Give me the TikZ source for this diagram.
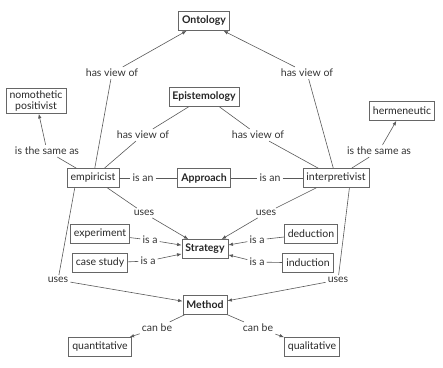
\documentclass[tikz,border=0pt]{standalone}
\usepackage{fontspec}
\setmainfont{Lato}
\usetikzlibrary{arrows.meta}

\tikzset{
  concept/.style={draw=black!60, line width=0.7pt, minimum height=19pt, inner xsep=3.5pt, inner ysep=2pt, text=black!85, font=\fontsize{10.5}{11.5}\selectfont},
  keyconcept/.style={concept, font=\fontsize{10.5}{11.5}\selectfont\bfseries},
  link/.style={inner sep=2pt, text=black!80, font=\fontsize{10.5}{11.5}\selectfont},
  line/.style={draw=black!65, line width=0.6pt},
  arr/.style={line, -{Latex[length=4.5pt,width=3.5pt]}}
}

\begin{document}
\begin{tikzpicture}[x=1pt,y=-1pt]
 \useasboundingbox (0,0) rectangle (443,367);

 \node[keyconcept] (onto) at (204,21) {Ontology};
 \node[keyconcept] (epis) at (204,97) {Epistemology};
 \node[keyconcept] (appr) at (204,178) {Approach};
 \node[keyconcept] (strat) at (205,249) {Strategy};
 \node[keyconcept] (meth) at (205,305) {Method};

 \node[concept, align=center, minimum width=58pt] (nomo) at (36,101) {nomothetic\\positivist};
 \node[concept] (herm) at (402,111) {hermeneutic};
 \node[concept] (emp) at (93,178) {empiricist};
 \node[concept] (interp) at (336,178) {interpretivist};
 \node[concept] (exper) at (100,234) {experiment};
 \node[concept] (case) at (100,263) {case study};
 \node[concept] (deduc) at (311,234) {deduction};
 \node[concept] (induc) at (308,263) {induction};
 \node[concept] (quant) at (100,347) {quantitative};
 \node[concept] (qual) at (312,347) {qualitative};

 \node[link] (l1) at (112,73) {has view of};
 \node[link] (l2) at (307,73) {has view of};
 \node[link] (l3) at (143,135) {has view of};
 \node[link] (l4) at (258,135) {has view of};
 \node[link] (l5) at (47,151) {is the same as};
 \node[link] (l6) at (379,151) {is the same as};
 \node[link] (l7) at (143,178) {is an};
 \node[link] (l8) at (270,178) {is an};
 \node[link] (l9) at (144,213) {uses};
 \node[link] (l10) at (266,213) {uses};
 \node[link] (l11) at (150,240) {is a};
 \node[link] (l12) at (148,261) {is a};
 \node[link] (l13) at (257,240) {is a};
 \node[link] (l14) at (257,262) {is a};
 \node[link] (l15) at (58,280) {uses};
 \node[link] (l16) at (338,280) {uses};
 \node[link] (l17) at (157,328) {can be};
 \node[link] (l18) at (258,328) {can be};

 \draw[line] (emp) -- (l1);
 \draw[arr] (l1) -- (onto);
 \draw[line] (interp) -- (l2);
 \draw[arr] (l2) -- (onto);
 \draw[line] ([xshift=20pt]epis.south west) -- (l3);
 \draw[line] (l3) -- (emp);
 \draw[line] ([xshift=-20pt]epis.south east) -- (l4);
 \draw[line] (l4) -- (interp);
 \draw[line] (emp) -- (l5);
 \draw[arr] (l5) -- (nomo);
 \draw[line] (interp) -- (l6);
 \draw[arr] (l6) -- (herm);
 \draw[line] (emp) -- (l7);
 \draw[line] (l7) -- (appr);
 \draw[line] (appr) -- (l8);
 \draw[line] (l8) -- (interp);
 \draw[line] (emp) -- (l9);
 \draw[arr] (l9) -- (strat);
 \draw[line] (interp) -- (l10);
 \draw[arr] (l10) -- (strat);
 \draw[line] (exper) -- (l11);
 \draw[arr] (l11) -- (strat);
 \draw[line] (case) -- (l12);
 \draw[arr] (l12) -- (strat);
 \draw[line] (deduc) -- (l13);
 \draw[arr] (l13) -- (strat);
 \draw[line] (induc) -- (l14);
 \draw[arr] (l14) -- (strat);
 \draw[line] ([xshift=8pt]emp.south west) -- (l15);
 \draw[arr] (l15) -- (meth);
 \draw[line] ([xshift=-20pt]interp.south east) -- (l16);
 \draw[arr] (l16) -- (meth);
 \draw[line] (meth) -- (l17);
 \draw[arr] (l17) -- (quant);
 \draw[line] (meth) -- (l18);
 \draw[arr] (l18) -- (qual);
\end{tikzpicture}
\end{document}
